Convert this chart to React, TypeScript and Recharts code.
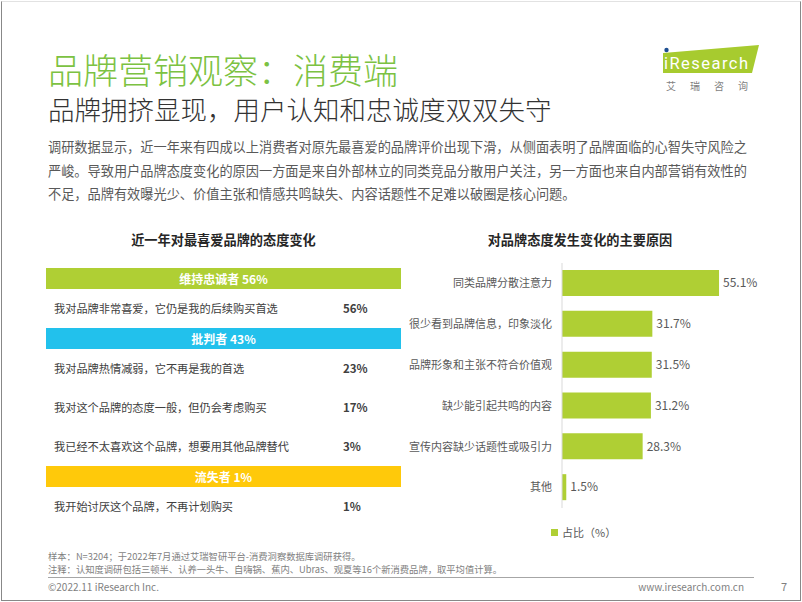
import { BarChart, Bar, XAxis, YAxis, Legend, LabelList } from 'recharts'

/* ---------- data ---------- */
const groupNames = ['维持忠诚者', '批判者', '流失者']
const groupShares = [56, 43, 1]
const groupColors = ['#afcf34', '#22c1ec', '#ffc90a']

const attitudeLabels = [
  '我对品牌非常喜爱，它仍是我的后续购买首选',
  '我对品牌热情减弱，它不再是我的首选',
  '我对这个品牌的态度一般，但仍会考虑购买',
  '我已经不太喜欢这个品牌，想要用其他品牌替代',
  '我开始讨厌这个品牌，不再计划购买',
]
const attitudeValues = [56, 23, 17, 3, 1]
const attitudeGroup = [0, 1, 1, 1, 2]

const reasonLabels = [
  '同类品牌分散注意力',
  '很少看到品牌信息，印象淡化',
  '品牌形象和主张不符合价值观',
  '缺少能引起共鸣的内容',
  '宣传内容缺少话题性或吸引力',
  '其他',
]
const reasonValues = [55.1, 31.7, 31.5, 31.2, 28.3, 1.5]

const paragraphLines = [
  '调研数据显示，近一年来有四成以上消费者对原先最喜爱的品牌评价出现下滑，从侧面表明了品牌面临的心智失守风险之',
  '严峻。导致用户品牌态度变化的原因一方面是来自外部林立的同类竞品分散用户关注，另一方面也来自内部营销有效性的',
  '不足，品牌有效曝光少、价值主张和情感共鸣缺失、内容话题性不足难以破圈是核心问题。',
]

const FONT = '"Noto Sans CJK SC", "Noto Sans", sans-serif'
const GRAY = '#595959'

/* ---------- left: attitude table ---------- */
function AttitudeTable() {
  return (
    <div style={{ position: 'absolute', left: 46, top: 268, width: 355 }}>
      {groupNames.map((g, gi) => (
        <div key={g}>
          <div
            style={{
              height: 21, lineHeight: '21px', background: groupColors[gi], color: '#fff',
              fontWeight: 700, fontSize: 12, textAlign: 'center',
            }}
          >
            {`${g} ${groupShares[gi]}%`}
          </div>
          {attitudeLabels.map((label, i) => attitudeGroup[i] !== gi ? null : (
            <div key={label} style={{ position: 'relative', height: 39, lineHeight: '39px', fontSize: 11.2, color: '#404040' }}>
              <span style={{ position: 'absolute', left: 8 }}>{label}</span>
              <span style={{ position: 'absolute', left: 297, fontWeight: 700, fontSize: 11.5 }}>{attitudeValues[i]}%</span>
            </div>
          ))}
        </div>
      ))}
    </div>
  )
}

/* ---------- right: reasons bar chart ---------- */
function ReasonChart() {
  const data = reasonLabels.map((name, i) => ({ name, value: reasonValues[i] }))
  return (
    <div style={{ position: 'absolute', left: 400, top: 250 }}>
      <BarChart layout="vertical" width={402} height={300} data={data} margin={{ top: 13, right: 69, bottom: 8, left: 0 }}>
        <XAxis type="number" domain={[0, 60]} hide />
        <YAxis
          type="category" dataKey="name" width={162} interval={0}
          tickLine={false} tickMargin={4}
          axisLine={{ stroke: '#d9d9d9' }}
          tick={{ fontSize: 11, fill: GRAY }}
        />
        <Legend
          verticalAlign="bottom" align="left" iconType="square" iconSize={7}
          wrapperStyle={{ left: 151, paddingTop: 10 }}
          formatter={(v) => <span style={{ color: GRAY, fontSize: 11 }}>{v}</span>}
        />
        <Bar dataKey="value" name="占比（%）" fill="#afcf34" barSize={26} isAnimationActive={false}>
          <LabelList
            dataKey="value" position="right" offset={4}
            formatter={(v) => `${Number(v).toFixed(1)}%`}
            style={{ fontSize: 12, fill: GRAY }}
          />
        </Bar>
      </BarChart>
    </div>
  )
}

function Logo() {
  return (
    <svg style={{ position: 'absolute', left: 655, top: 40 }} width={110} height={56}>
      <polygon points="8,13 104,5 97,33 8,33" fill="#a7cb2f" />
      <circle cx={11.5} cy={10} r={2.2} fill="#1e4f91" />
      <text x={9} y={29} fill="#fff" fontSize={16.5} fontFamily="Roboto, sans-serif" textLength={84}>iResearch</text>
      <text x={11} y={50} fill="#7f7f7f" fontSize={10} letterSpacing={14}>艾瑞咨询</text>
    </svg>
  )
}

export default function App() {
  const abs = { position: 'absolute' as const, whiteSpace: 'nowrap' as const }
  return (
    <div style={{ position: 'absolute', left: 0, top: 0, width: 802, height: 602, background: '#fff', fontFamily: FONT, overflow: 'hidden' }}>
      <div style={{ position: 'absolute', left: 1, top: 1, width: 798, height: 598, borderLeft: '1px solid #888', borderRight: '1px solid #888', borderBottom: '1px solid #888', borderTop: '1px solid #e2e2e2' }} />
      <div style={{ ...abs, left: 48, top: 51, fontSize: 35, lineHeight: '36px', color: '#7cc242', fontWeight: 300 }}>品牌营销观察：消费端</div>
      <div style={{ ...abs, left: 48, top: 95, fontSize: 26.5, lineHeight: '28px', color: '#333', fontWeight: 300 }}>品牌拥挤显现，用户认知和忠诚度双双失守</div>
      <Logo />
      {paragraphLines.map((line, i) => (
        <div key={i} style={{ ...abs, left: 48, top: 135 + i * 23.5, fontSize: 13.2, lineHeight: '23px', color: GRAY }}>{line}</div>
      ))}
      <div style={{ ...abs, left: 46, width: 355, top: 230, textAlign: 'center', fontSize: 13.2, lineHeight: '20px', fontWeight: 700, color: '#262626' }}>近一年对最喜爱品牌的态度变化</div>
      <div style={{ ...abs, left: 430, width: 300, top: 230, textAlign: 'center', fontSize: 13.2, lineHeight: '20px', fontWeight: 700, color: '#262626' }}>对品牌态度发生变化的主要原因</div>
      <AttitudeTable />
      <ReasonChart />
      <div style={{ ...abs, left: 48, top: 551, fontSize: 9.3, lineHeight: '11px', color: '#7f7f7f' }}>样本：N=3204；于2022年7月通过艾瑞智研平台-消费洞察数据库调研获得。</div>
      <div style={{ ...abs, left: 48, top: 564, fontSize: 9.3, lineHeight: '11px', color: '#7f7f7f' }}>注释：认知度调研包括三顿半、认养一头牛、自嗨锅、蕉内、Ubras、观夏等16个新消费品牌，取平均值计算。</div>
      <div style={{ position: 'absolute', left: 48, top: 577, width: 706, height: 1, background: '#a6a6a6' }} />
      <div style={{ ...abs, left: 48, top: 580, fontSize: 10, lineHeight: '14px', color: '#7f7f7f' }}>©2022.11 iResearch Inc.</div>
      <div style={{ ...abs, right: 58, top: 580, fontSize: 10, lineHeight: '14px', color: '#7f7f7f' }}>www.iresearch.com.cn</div>
      <div style={{ ...abs, left: 781, top: 579, fontSize: 11, lineHeight: '14px', color: '#7f7f7f' }}>7</div>
    </div>
  )
}
